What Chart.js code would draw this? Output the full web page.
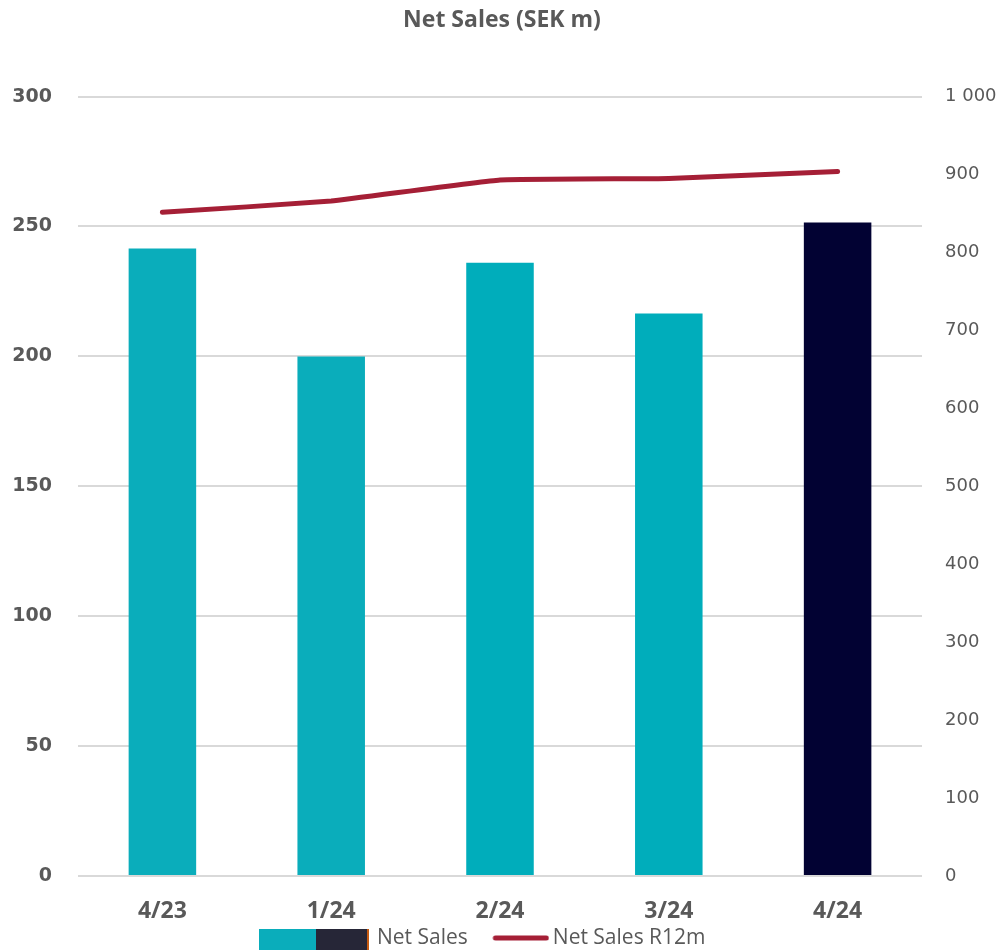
<!DOCTYPE html>
<html>
<head>
<meta charset="utf-8">
<script src="https://cdn.jsdelivr.net/npm/chart.js@4/dist/chart.umd.min.js"></script>
<style>
  html, body { margin: 0; padding: 0; background: #fff; }
  #wrap { width: 1004px; height: 950px; }
</style>
</head>
<body>
<div id="wrap"><canvas id="myChart"></canvas></div>
<script>
// Quarterly net sales and rolling twelve months, SEK m
const quarters = ['4/23', '1/24', '2/24', '3/24', '4/24'];
const netSales = [241.5, 200, 236, 216.5, 251.5];
const netSalesR12m = [851.5, 866, 893, 895, 904];
const salesTicks = [0, 50, 100, 150, 200, 250, 300];
const r12mTicks = [0, 100, 200, 300, 400, 500, 600, 700, 800, 900, 1000];

const barColors = ['#0aadbb', '#0aadbb', '#00adbb', '#00adbb', '#020233'];
const lineColor = '#a51f36';
const textGrey = '#595959';

// Legend swatches: two-tone block for the bars, short thick stroke for the line.
// Both sit in a 68px legend box; transparent margins shift them into place.
function salesSwatch() {
  const c = document.createElement('canvas');
  c.width = 147; c.height = 26;
  const g = c.getContext('2d');
  g.fillStyle = '#0aadbb'; g.fillRect(0, 4, 57, 22);
  g.fillStyle = '#262637'; g.fillRect(57, 4, 51, 22);
  g.fillStyle = '#c55a11'; g.fillRect(108, 4, 2, 22);
  return c;
}

function r12mSwatch() {
  const c = document.createElement('canvas');
  c.width = 82; c.height = 8;
  const g = c.getContext('2d');
  g.strokeStyle = lineColor;
  g.lineWidth = 5;
  g.lineCap = 'round';
  g.beginPath();
  g.moveTo(28, 4);
  g.lineTo(79, 4);
  g.stroke();
  return c;
}

const ctx = document.getElementById('myChart');

const config = {
  data: {
    labels: quarters,
    datasets: [
      {
        type: 'line',
        label: 'Net Sales R12m',
        data: netSalesR12m,
        yAxisID: 'y1',
        borderColor: lineColor,
        borderWidth: 5,
        borderCapStyle: 'round',
        pointRadius: 0,
        tension: 0.1,
        order: 0
      },
      {
        type: 'bar',
        label: 'Net Sales',
        data: netSales,
        yAxisID: 'y',
        backgroundColor: barColors,
        categoryPercentage: 1,
        barPercentage: 0.4,
        order: 1
      }
    ]
  },
  options: {
    responsive: true,
    maintainAspectRatio: false,
    animation: false,
    layout: { padding: { top: 0, bottom: -8.5, left: 0, right: 0 } },
    plugins: {
      title: {
        display: true,
        text: 'Net Sales (SEK m)',
        color: textGrey,
        font: { family: 'Open Sans', size: 23, weight: 'bold' },
        padding: { top: 7, bottom: 62 }
      },
      tooltip: { enabled: false },
      legend: {
        position: 'bottom',
        labels: {
          usePointStyle: true,
          pointStyleWidth: 68,
          boxHeight: 20,
          padding: 6.5,
          color: textGrey,
          font: { family: 'Open Sans', size: 21 },
          generateLabels: () => [
            { text: 'Net Sales', pointStyle: salesSwatch(), fontColor: textGrey, lineWidth: 0, datasetIndex: 1 },
            { text: 'Net Sales R12m', pointStyle: r12mSwatch(), fontColor: textGrey, lineWidth: 0, datasetIndex: 0 }
          ]
        }
      }
    },
    scales: {
      x: {
        // keep the quarter labels tight above the legend
        afterFit: s => { s.height = 45; },
        grid: { display: false },
        border: { display: false },
        ticks: {
          color: textGrey,
          font: { family: 'Open Sans', size: 23, weight: 'bold' },
          padding: 14
        }
      },
      y: {
        position: 'left',
        min: 0,
        max: 300,
        afterBuildTicks: s => { s.ticks = salesTicks.map(v => ({ value: v })); },
        afterFit: s => { s.width = 78; },
        grid: { color: '#d9d9d9', lineWidth: 2, drawTicks: false },
        border: { display: false },
        ticks: {
          color: textGrey,
          font: { family: 'DejaVu Sans', size: 19, weight: 'bold' },
          padding: 26
        }
      },
      y1: {
        position: 'right',
        min: 0,
        max: 1000,
        afterBuildTicks: s => { s.ticks = r12mTicks.map(v => ({ value: v })); },
        afterFit: s => { s.width = 82; },
        grid: { display: false, drawTicks: false },
        border: { display: false },
        ticks: {
          color: textGrey,
          font: { family: 'DejaVu Sans', size: 18 },
          padding: 23,
          callback: v => String(v).replace(/\B(?=(\d{3})+(?!\d))/g, ' ')
        }
      }
    }
  }
};

const myChart = new Chart(ctx, config);
</script>
</body>
</html>
